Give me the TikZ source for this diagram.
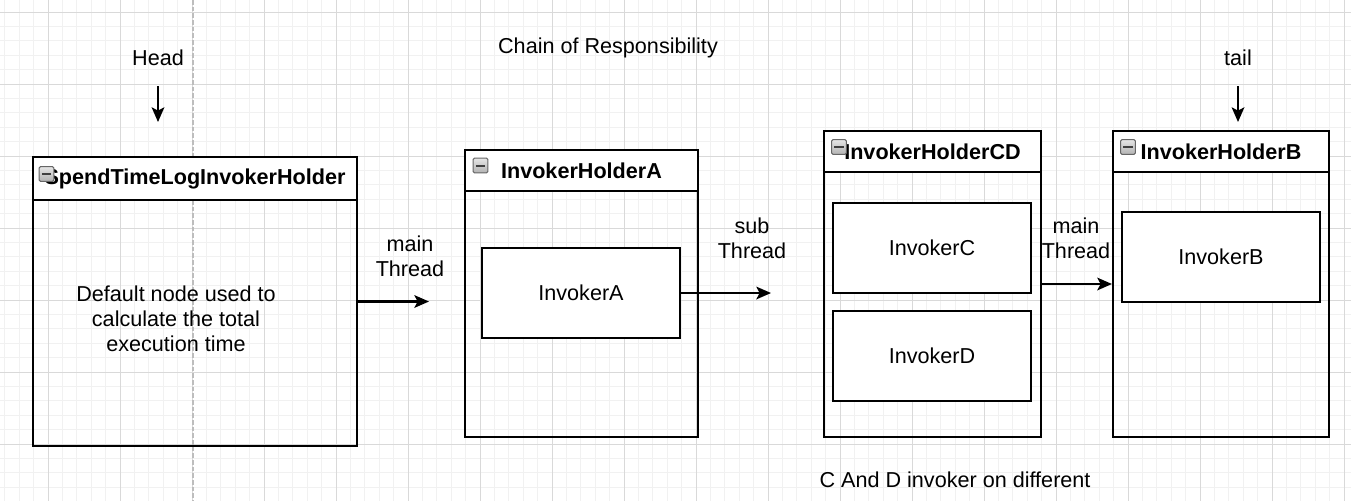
\documentclass[tikz,border=0pt]{standalone}
\usepackage{fontspec}
\setmainfont{Liberation Sans}
\usetikzlibrary{arrows.meta}

\definecolor{gridmajor}{HTML}{D9D9D9}
\definecolor{gridminor}{HTML}{F1F1F1}
\definecolor{guidegray}{HTML}{BDBDBD}

\tikzset{
    holder/.style={draw=black, line width=1.6pt, inner sep=0pt},
    holderhead/.style={draw=black, line width=1.6pt, fill=white, inner sep=0pt,
        anchor=north, font=\fontsize{16.2}{19}\selectfont\bfseries},
    invoker/.style={draw=black, line width=1.6pt, fill=white,
        minimum width=198*0.75pt, minimum height=90*0.75pt,
        font=\fontsize{16.2}{19}\selectfont},
    lbl/.style={align=center, font=\fontsize{16.2}{18.75}\selectfont},
    minusicon/.style={draw=gray!80!black, top color=gray!20, bottom color=gray!60,
        rounded corners=1pt, minimum size=11pt, inner sep=0pt, line width=0.8pt,
        path picture={\draw[line width=1.5pt, black!75]
            ([xshift=-3.5pt]path picture bounding box.center) --
            ([xshift=3.5pt]path picture bounding box.center);}},
    flow/.style={-{Stealth[length=11pt,width=9.5pt,inset=2.5pt]}, line width=1.6pt},
}

\begin{document}
\begin{tikzpicture}[x=0.75pt, y=-0.75pt]
    \useasboundingbox (0,0) rectangle (1351,501);

    % background grid, fine lines first and then the heavier ones
    \foreach \i in {-3,...,90} {
        \pgfmathsetmacro\xpos{48 + 14.4*\i}
        \draw[gridminor, line width=0.75pt] (\xpos, 0) -- (\xpos, 501);
    }
    \foreach \j in {0,...,33} {
        \pgfmathsetmacro\ypos{12 + 14.4*\j}
        \draw[gridminor, line width=0.75pt] (0, \ypos) -- (1351, \ypos);
    }
    \foreach \i in {0,...,18} {
        \draw[gridmajor, line width=0.75pt] (48 + 72*\i, 0) -- (48 + 72*\i, 501);
    }
    \foreach \j in {0,...,6} {
        \draw[gridmajor, line width=0.75pt] (0, 12 + 72*\j) -- (1351, 12 + 72*\j);
    }

    % dashed guide line
    \draw[guidegray, line width=1.6pt, dash pattern=on 3.5pt off 1.5pt] (193, 0) -- (193, 501);

    % titles at the top
    \node[lbl] (title) at (608, 48) {Chain of Responsibility};
    \node[lbl] (head) at (158, 58) {Head};
    \node[lbl] (tail) at (1238, 58) {tail};

    % SpendTimeLogInvokerHolder
    \node[holder, minimum width=324*0.75pt, minimum height=289*0.75pt] (spend) at (195, 301.5) {};
    \node[holderhead, minimum width=324*0.75pt, minimum height=43*0.75pt] (spendhead) at (spend.north) {SpendTimeLogInvokerHolder};
    \node[minusicon] (spendicon) at (46.5, 174) {};
    \node[lbl] (spendtext) at (176, 319) {Default node used to\\calculate the total\\execution time};

    % InvokerHolderA
    \node[holder, minimum width=233*0.75pt, minimum height=287*0.75pt] (holderA) at (581.5, 293.5) {};
    \node[holderhead, minimum width=233*0.75pt, minimum height=41*0.75pt] (holderAhead) at (holderA.north) {InvokerHolderA};
    \node[minusicon] (holderAicon) at (480.5, 165.5) {};
    \node[invoker] (invA) at (581, 293) {InvokerA};

    % InvokerHolderCD
    \node[holder, minimum width=217*0.75pt, minimum height=306*0.75pt] (holderCD) at (932.5, 284) {};
    \node[holderhead, minimum width=217*0.75pt, minimum height=41*0.75pt] (holderCDhead) at (holderCD.north) {InvokerHolderCD};
    \node[minusicon] (holderCDicon) at (839, 147) {};
    \node[invoker] (invC) at (932, 248) {InvokerC};
    \node[invoker] (invD) at (932, 356) {InvokerD};

    % InvokerHolderB
    \node[holder, minimum width=216*0.75pt, minimum height=306*0.75pt] (holderB) at (1221, 284) {};
    \node[holderhead, minimum width=216*0.75pt, minimum height=41*0.75pt] (holderBhead) at (holderB.north) {InvokerHolderB};
    \node[minusicon] (holderBicon) at (1128, 147) {};
    \node[invoker] (invB) at (1221, 257) {InvokerB};

    % thread labels
    \node[lbl] (mainA) at (410, 256) {main\\Thread};
    \node[lbl] (subCD) at (752, 238) {sub\\Thread};
    \node[lbl] (mainB) at (1076, 238) {main\\Thread};
    \node[lbl] (note) at (955, 480) {C And D invoker on different};

    % free ends of the arrows
    \coordinate (headfrom) at (158, 86);
    \coordinate (headto) at (158, 122);
    \coordinate (tailfrom) at (1238, 86);
    \coordinate (tailto) at (1238, 122);
    \coordinate (mainend) at (429, 301.5);
    \coordinate (subend) at (771, 293);

    \draw[flow] (headfrom) -- (headto);
    \draw[flow] (tailfrom) -- (tailto);
    \draw[flow] (spend.east) -- (mainend);
    \draw[flow] (invA.east) -- (subend);
    \draw[flow] (holderCD.east) -- (holderB.west);

\end{tikzpicture}
\end{document}
